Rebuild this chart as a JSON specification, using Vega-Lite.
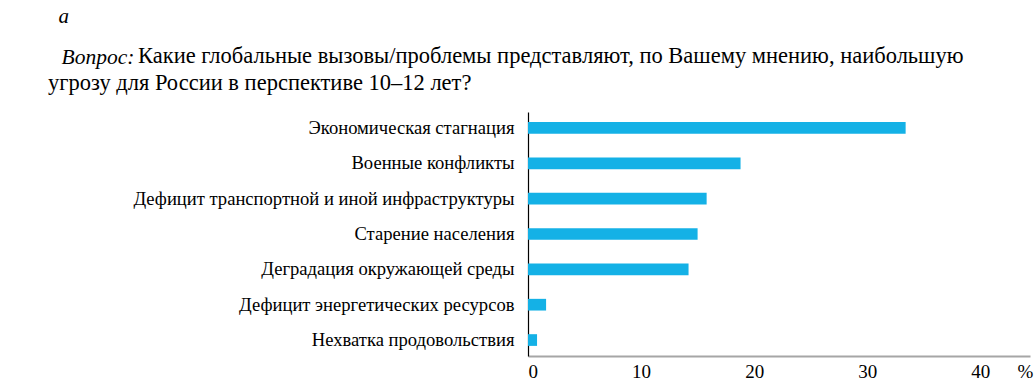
{
  "$schema": "https://vega.github.io/schema/vega-lite/v6.json",
  "autosize": {"type": "none"},
  "padding": {"left": 528, "top": 112, "right": 4, "bottom": 29},
  "width": 502,
  "height": 244,
  "background": "white",
  "title": {
    "text": "\u200b\u00a0\u00a0а",
    "subtitle": [
      "\u200b\u00a0\u00a0\u00a0\u00a0\u00a0\u00a0\u00a0\u00a0\u00a0\u00a0\u00a0\u00a0\u00a0\u00a0\u00a0\u00a0Какие глобальные вызовы/проблемы представляют, по Вашему мнению, наибольшую",
      "угрозу для России в перспективе 10–12 лет?"
    ],
    "anchor": "start",
    "frame": "group",
    "dx": -480,
    "dy": 68,
    "offset": 20,
    "font": "Liberation Serif",
    "fontSize": 21,
    "fontStyle": "italic",
    "fontWeight": "normal",
    "color": "#000000",
    "subtitleFont": "Liberation Serif",
    "subtitleFontSize": 22.5,
    "subtitleColor": "#000000",
    "subtitleLineHeight": 27,
    "subtitlePadding": 18
  },
  "data": {
    "values": [
      {"problem": "Экономическая стагнация", "value": 33.4},
      {"problem": "Военные конфликты", "value": 18.8},
      {"problem": "Дефицит транспортной и иной инфраструктуры", "value": 15.8},
      {"problem": "Старение населения", "value": 15.0},
      {"problem": "Деградация окружающей среды", "value": 14.2},
      {"problem": "Дефицит энергетических ресурсов", "value": 1.6},
      {"problem": "Нехватка продовольствия", "value": 0.8}
    ]
  },
  "mark": {"type": "bar", "color": "#14b1e6"},
  "encoding": {
    "y": {
      "field": "problem",
      "type": "nominal",
      "sort": null,
      "scale": {"paddingInner": 0.669, "paddingOuter": 0.286},
      "axis": {
        "title": "Вопрос:",
        "titleFont": "Liberation Serif",
        "titleFontSize": 21.5,
        "titleFontStyle": "italic",
        "titleFontWeight": "normal",
        "titleColor": "#000000",
        "titleAngle": 0,
        "titleAlign": "left",
        "titleBaseline": "alphabetic",
        "titleX": -467,
        "titleY": -49,
        "domainColor": "#000000",
        "domainWidth": 1.2,
        "ticks": false,
        "tickSize": 0,
        "labelPadding": 14,
        "labelFont": "Liberation Serif",
        "labelFontSize": 18.6,
        "labelColor": "#000000",
        "labelLimit": 500,
        "grid": false
      }
    },
    "x": {
      "field": "value",
      "type": "quantitative",
      "scale": {"domain": [0, 44.4], "nice": false},
      "axis": {
        "values": [0, 10, 20, 30, 40],
        "title": "%",
        "titleFont": "Liberation Serif",
        "titleFontSize": 19,
        "titleFontWeight": "normal",
        "titleColor": "#000000",
        "titleAlign": "center",
        "titleBaseline": "alphabetic",
        "titleX": 497,
        "titleY": 21,
        "domainColor": "#a6a6a6",
        "domainWidth": 2,
        "ticks": false,
        "tickSize": 0,
        "labelPadding": 21,
        "labelBaseline": "alphabetic",
        "labelFont": "Liberation Serif",
        "labelFontSize": 19,
        "labelColor": "#000000",
        "grid": false
      }
    }
  },
  "config": {"view": {"stroke": null}}
}
